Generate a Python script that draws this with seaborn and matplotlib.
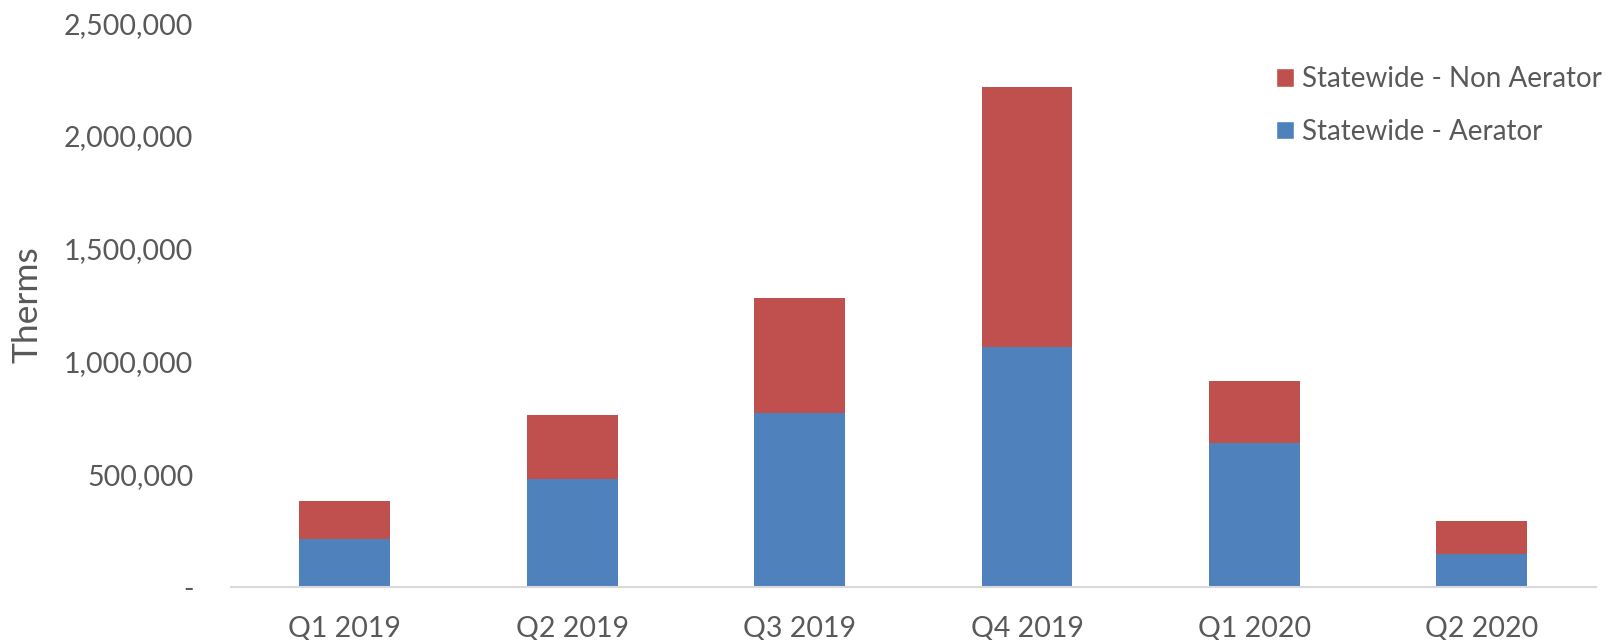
import numpy as np
import pandas as pd
import matplotlib
matplotlib.use("Agg")
import matplotlib.pyplot as plt
import seaborn as sns
from matplotlib.patches import Patch
from matplotlib.ticker import FuncFormatter

# --- Data ---
quarters = ["Q1 2019", "Q2 2019", "Q3 2019", "Q4 2019", "Q1 2020", "Q2 2020"]
aerator = [213000, 479000, 771000, 1064000, 638000, 146000]
non_aerator = [168000, 283000, 511000, 1155000, 275000, 146000]

RED = "#C0504D"
BLUE = "#4F81BD"
TEXT = "#595959"

df = pd.DataFrame({"quarter": quarters, "aerator": aerator, "non_aerator": non_aerator})
df["total"] = df["aerator"] + df["non_aerator"]

sns.set_theme(style="white")
plt.rcParams["font.family"] = ["Lato", "DejaVu Sans"]

fig = plt.figure(figsize=(16.15, 6.4), dpi=100)
ax = fig.add_axes([0.143, 0.0828, 0.845, 0.881])

# stacked bars: total in red, aerator drawn over it in blue
sns.barplot(data=df, x="quarter", y="total", color=RED, saturation=1, width=0.4,
            linewidth=0, ax=ax)
sns.barplot(data=df, x="quarter", y="aerator", color=BLUE, saturation=1, width=0.4,
            linewidth=0, ax=ax)

ax.set_xlim(-0.5, 5.5)
ax.set_ylim(0, 2500000)
ax.set_yticks(np.arange(0, 2500001, 500000))
ax.yaxis.set_major_formatter(FuncFormatter(lambda v, p: "-" if v == 0 else f"{int(v):,}"))

ax.set_xlabel("")
ax.set_ylabel("Therms", fontsize=25.5, color=TEXT)
ax.yaxis.set_label_coords(-0.137, 0.5)

ax.tick_params(axis="y", length=0, pad=27, labelsize=20.5, labelcolor=TEXT)
ax.tick_params(axis="x", length=0, pad=21, labelsize=20.5, labelcolor=TEXT)

for side in ["top", "right", "left"]:
    ax.spines[side].set_visible(False)
ax.spines["bottom"].set_color("#D9D9D9")
ax.spines["bottom"].set_linewidth(1.5)

handles = [Patch(facecolor=RED, label="Statewide - Non Aerator"),
           Patch(facecolor=BLUE, label="Statewide - Aerator")]
fig.legend(handles=handles, loc="center left", bbox_to_anchor=(0.7814, 0.835),
           frameon=False, fontsize=20, labelcolor=TEXT, borderpad=0,
           handlelength=0.65, handleheight=0.65, handletextpad=0.3, labelspacing=0.95)

fig.savefig("out.png", dpi=100)
